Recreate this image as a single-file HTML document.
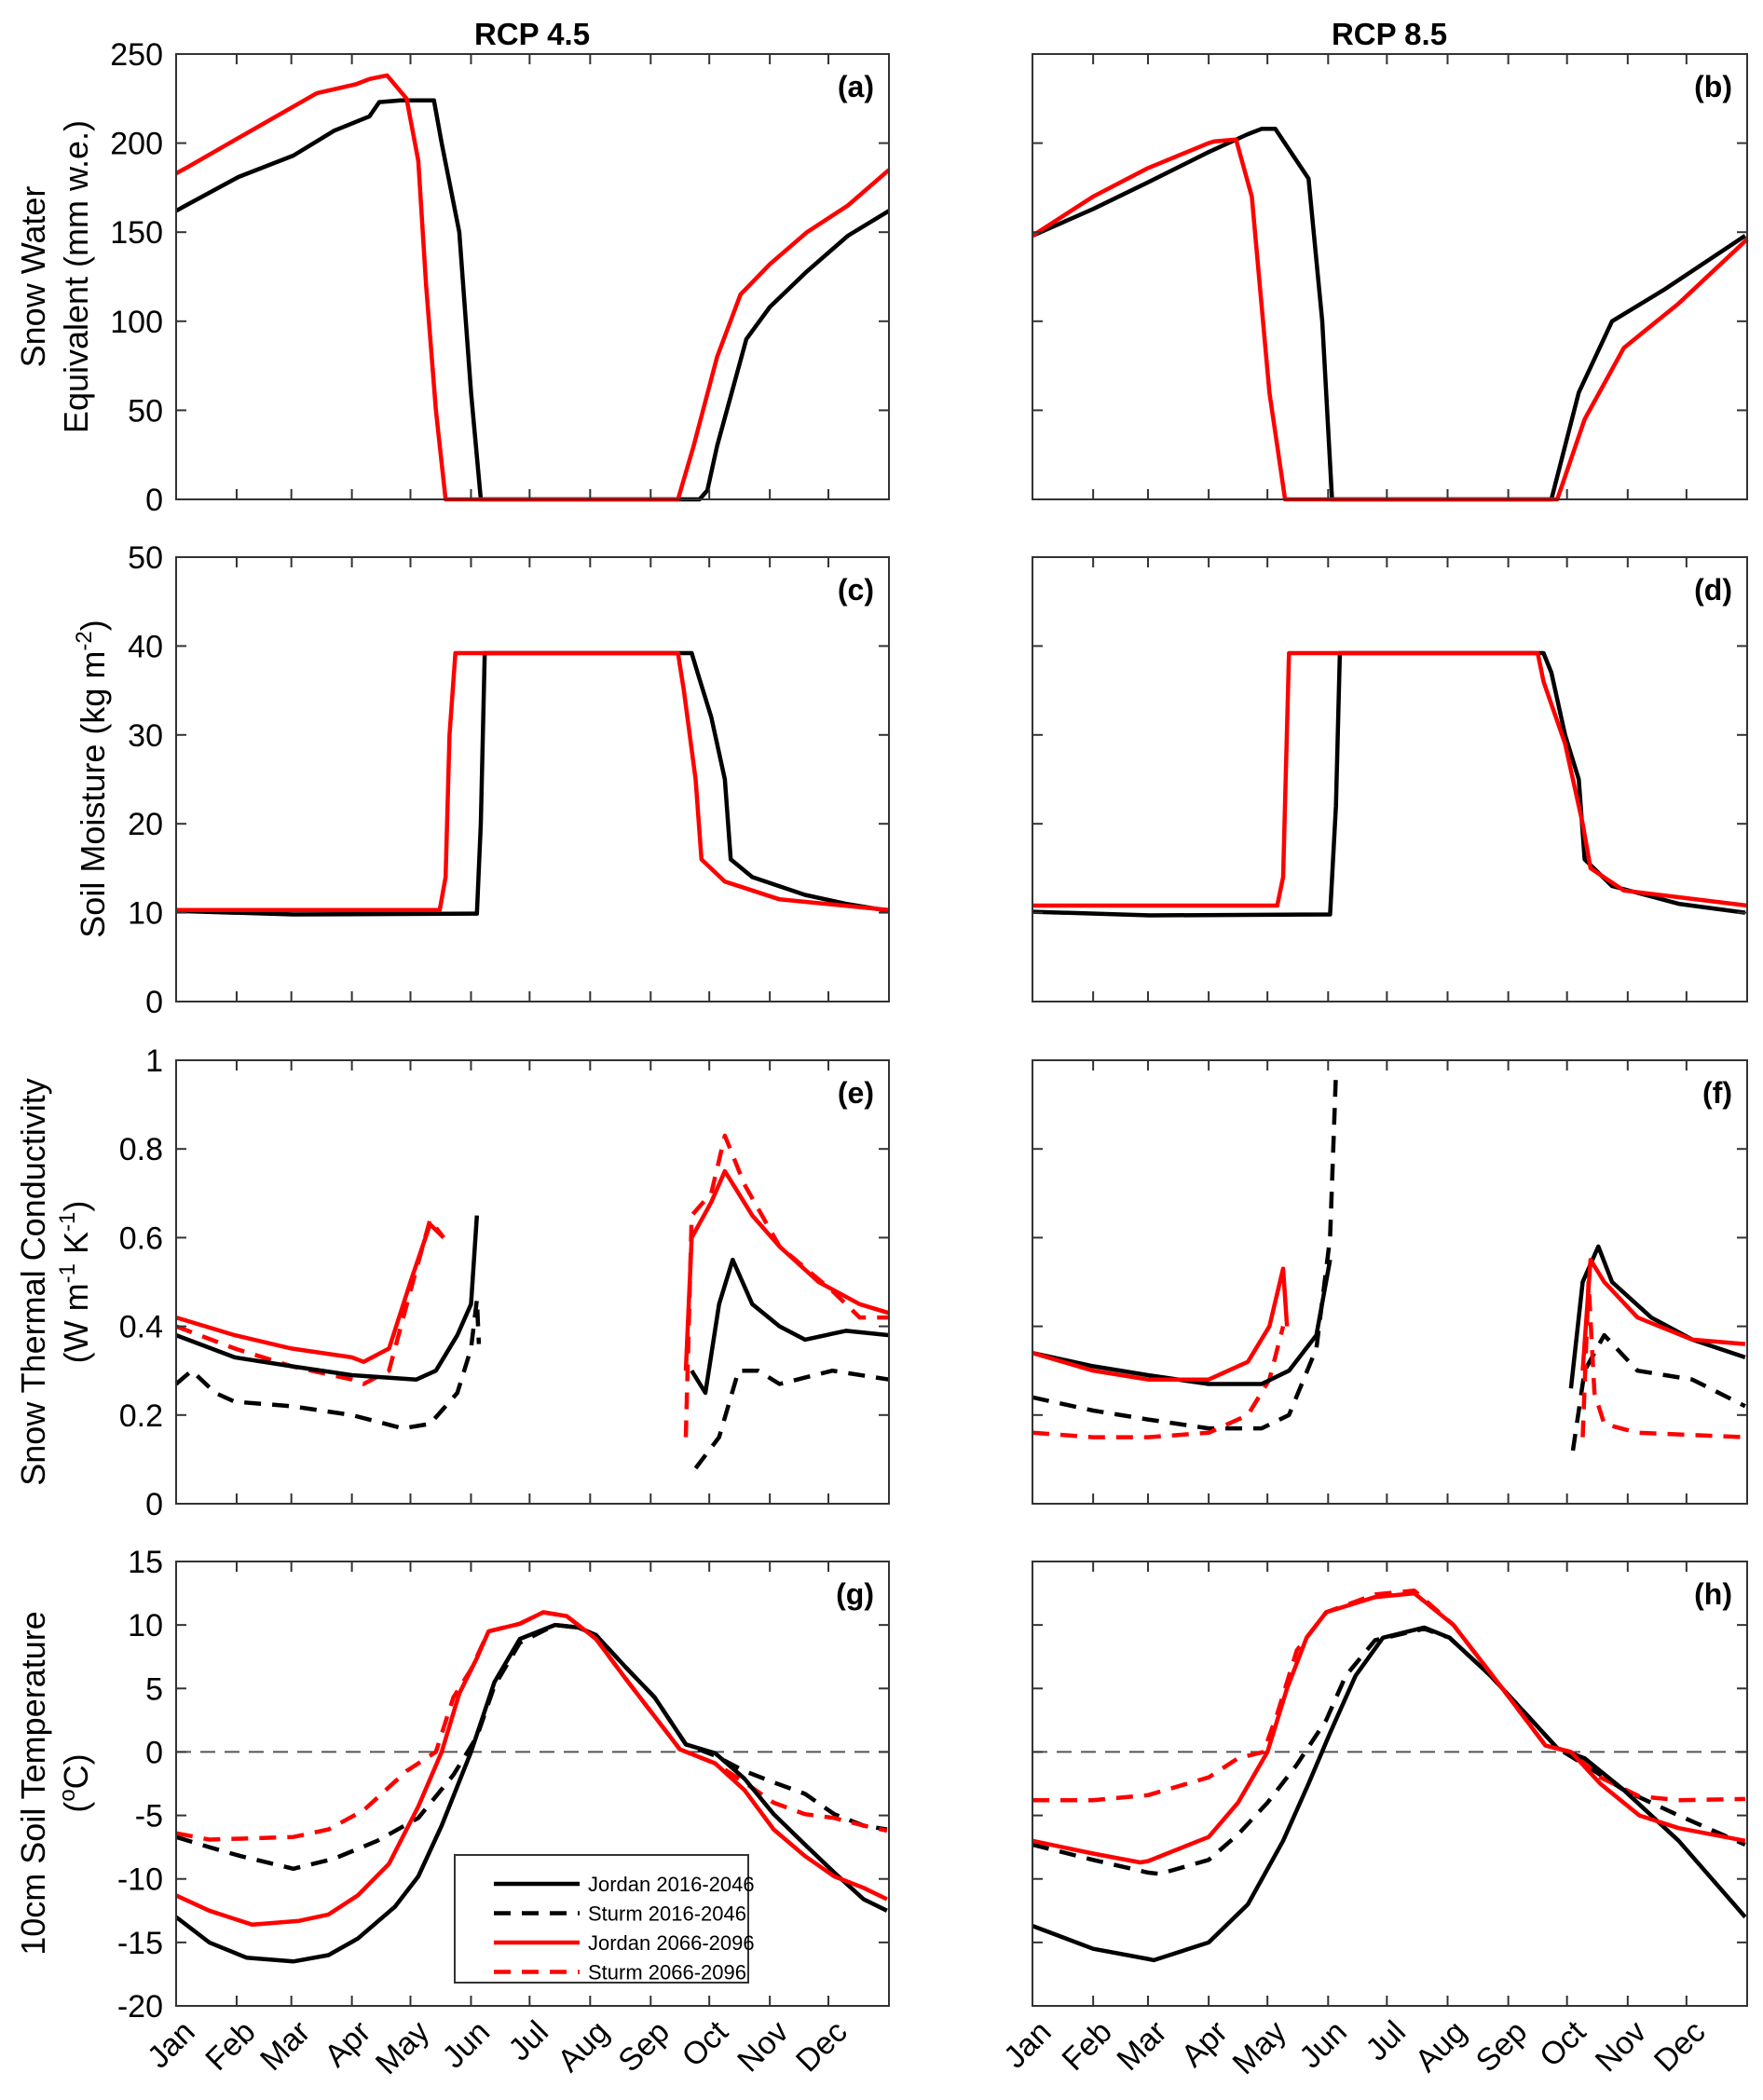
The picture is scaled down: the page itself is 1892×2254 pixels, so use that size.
<!DOCTYPE html>
<html><head><meta charset="utf-8"><style>
body{margin:0;background:#fff;}
svg{display:block;font-family:"Liberation Sans",sans-serif;}
</style></head><body>
<svg id="fig" width="1892" height="2254" viewBox="0 0 1892 2254" xmlns="http://www.w3.org/2000/svg">
<text x="571" y="48" font-size="33" font-weight="bold" text-anchor="middle">RCP 4.5</text>
<text x="1491" y="48" font-size="33" font-weight="bold" text-anchor="middle">RCP 8.5</text>
<g font-size="36" text-anchor="middle">
<text transform="translate(48,297) rotate(-90)">Snow Water</text>
<text transform="translate(94,297) rotate(-90)">Equivalent (mm w.e.)</text>
</g>
<g font-size="36" text-anchor="middle">
<text transform="translate(112,836) rotate(-90)">Soil Moisture (kg m<tspan dy="-14" font-size="24">-2</tspan><tspan dy="14">)</tspan></text>
</g>
<g font-size="36" text-anchor="middle">
<text transform="translate(48,1376) rotate(-90)">Snow Thermal Conductivity</text>
<text transform="translate(94,1376) rotate(-90)">(W m<tspan dy="-14" font-size="24">-1</tspan><tspan dy="14"> K</tspan><tspan dy="-14" font-size="24">-1</tspan><tspan dy="14">)</tspan></text>
</g>
<g font-size="36" text-anchor="middle">
<text transform="translate(48,1914) rotate(-90)">10cm Soil Temperature</text>
<text transform="translate(94,1914) rotate(-90)">(<tspan dy="-14" font-size="24">o</tspan><tspan dy="14">C)</tspan></text>
</g>
</svg>
<script>
// ---------- data ----------
const months=["Jan","Feb","Mar","Apr","May","Jun","Jul","Aug","Sep","Oct","Nov","Dec"];
const monthStart=[0,31,59,90,120,151,181,212,243,273,304,334];
const sweTicks=[0,50,100,150,200,250];
const smTicks=[0,10,20,30,40,50];
const kTicks=[0,0.2,0.4,0.6,0.8,1];
const kTickLabels=["0","0.2","0.4","0.6","0.8","1"];
const tTicks=[-20,-15,-10,-5,0,5,10,15];

// (a)
const aJ1Day=[0,5,32,60,81,99,104,115,132,136,145,151,156,268,272,277,292,304,323,344,365];
const aJ1Val=[162,165,181,193,207,215,223,224,224,200,150,60,0,0,5,30,90,108,128,148,162];
const aJ2Day=[0,5,32,72,92,99,108,118,124,128,133,138,257,265,277,289,304,323,344,365];
const aJ2Val=[183,186,203,228,233,236,238,225,190,120,50,0,0,30,80,115,132,150,165,185];
// (b)
const bJ1Day=[0,31,59,90,110,117,124,141,148,153,265,279,296,323,364];
const bJ1Val=[148,163,178,195,205,208,208,180,100,0,0,60,100,118,148];
const bJ2Day=[0,31,59,90,93,104,112,121,129,268,282,302,330,365];
const bJ2Val=[148,170,186,200,201,202,170,60,0,0,45,85,110,146];
// (c)
const cJ1Day=[0,60,154,156,158,264,267,274,281,284,295,322,343,365];
const cJ1Val=[10.2,9.8,9.9,20,39.2,39.2,37,32,25,16,14,12,11,10.2];
const cJ2Day=[0,135,138,140,143,257,260,266,269,281,309,365];
const cJ2Val=[10.3,10.3,14,30,39.2,39.2,35,25,16,13.5,11.5,10.3];
// (d)
const dJ1Day=[0,60,152,155,157,261,265,272,279,282,296,330,364];
const dJ1Val=[10.1,9.7,9.8,22,39.2,39.2,37,30,25,16,13,11,10];
const dJ2Day=[0,125,128,131,258,261,272,281,285,302,365];
const dJ2Val=[10.8,10.8,14,39.2,39.2,36,29,20,15,12.5,10.8];
// (e) spring / autumn segments
const eJ1SpDay=[0,30,59,90,123,133,144,151,154];
const eJ1SpVal=[0.38,0.33,0.31,0.29,0.28,0.3,0.38,0.45,0.65];
const eJ1AuDay=[264,271,278,285,295,309,322,343,365];
const eJ1AuVal=[0.3,0.25,0.45,0.55,0.45,0.4,0.37,0.39,0.38];
const eS1SpDay=[0,8,20,30,59,90,116,130,144,151,154,155];
const eS1SpVal=[0.27,0.3,0.25,0.23,0.22,0.2,0.17,0.18,0.25,0.35,0.46,0.36];
const eS1AuDay=[266,278,288,298,309,336,365];
const eS1AuVal=[0.08,0.15,0.3,0.3,0.27,0.3,0.28];
const eJ2SpDay=[0,30,59,90,96,109,120,130,137];
const eJ2SpVal=[0.42,0.38,0.35,0.33,0.32,0.35,0.5,0.63,0.6];
const eJ2AuDay=[261,264,274,281,295,309,329,350,365];
const eJ2AuVal=[0.3,0.6,0.68,0.75,0.65,0.58,0.5,0.45,0.43];
const eS2SpDay=[0,30,59,90,96,109,120,130,137];
const eS2SpVal=[0.4,0.35,0.31,0.28,0.27,0.3,0.48,0.64,0.6];
const eS2AuDay=[261,264,274,281,291,309,336,350,365];
const eS2AuVal=[0.15,0.65,0.7,0.83,0.72,0.58,0.48,0.42,0.42];
// (f)
const fJ1SpDay=[0,31,59,90,117,131,145,152];
const fJ1SpVal=[0.34,0.31,0.29,0.27,0.27,0.3,0.38,0.55];
const fJ1AuDay=[275,281,289,296,316,337,364];
const fJ1AuVal=[0.26,0.5,0.58,0.5,0.42,0.37,0.33];
const fS1SpDay=[0,31,59,90,117,131,145,152,155];
const fS1SpVal=[0.24,0.21,0.19,0.17,0.17,0.2,0.35,0.6,0.97];
const fS1AuDay=[276,282,292,309,337,364];
const fS1AuVal=[0.12,0.3,0.38,0.3,0.28,0.22];
const fJ2SpDay=[0,31,59,90,110,121,128,130];
const fJ2SpVal=[0.34,0.3,0.28,0.28,0.32,0.4,0.53,0.4];
const fJ2AuDay=[281,285,292,309,337,364];
const fJ2AuVal=[0.3,0.55,0.5,0.42,0.37,0.36];
const fS2SpDay=[0,31,59,90,110,121,128];
const fS2SpVal=[0.16,0.15,0.15,0.16,0.2,0.28,0.4];
const fS2AuDay=[281,284,287,292,309,364];
const fS2AuVal=[0.15,0.5,0.25,0.18,0.16,0.15];
// (g)
const gJ1Day=[0,17,36,60,78,93,112,124,136,151,163,176,194,206,215,230,245,261,276,291,306,322,337,352,364];
const gJ1Val=[-13,-15,-16.2,-16.5,-16,-14.7,-12.2,-9.8,-5.8,0,5.5,8.9,10,9.8,9.2,6.7,4.3,0.6,-0.1,-2.1,-4.9,-7.3,-9.5,-11.6,-12.5];
const gS1Day=[0,17,33,60,81,103,124,142,154,163,176,194,206,215,230,245,261,276,291,306,322,337,352,364];
const gS1Val=[-6.7,-7.5,-8.2,-9.2,-8.4,-7,-5.2,-1.8,1.2,5.2,8.6,10,9.8,9.2,6.7,4.3,0.6,-0.3,-1.5,-2.4,-3.3,-4.9,-5.8,-6.1];
const gJ2Day=[0,17,39,63,78,93,109,124,136,145,154,160,176,188,200,215,230,245,258,276,291,306,322,337,352,364];
const gJ2Val=[-11.3,-12.5,-13.6,-13.3,-12.8,-11.3,-8.8,-4.3,0,4.6,7.4,9.5,10.1,11,10.7,8.9,5.8,2.8,0.2,-0.9,-3,-6.1,-8.2,-9.8,-10.7,-11.6];
const gS2Day=[0,17,60,78,96,118,133,142,151,160,176,188,200,215,230,245,258,276,291,306,322,337,352,364];
const gS2Val=[-6.4,-6.9,-6.7,-6.1,-4.6,-1.5,0,4.3,6.5,9.5,10.1,11,10.7,8.9,5.8,2.8,0.2,-0.9,-2.4,-4,-4.9,-5.2,-5.8,-6.2];
// (h)
const hJ1Day=[0,31,59,62,90,110,128,141,152,165,179,200,213,234,255,268,282,302,330,364];
const hJ1Val=[-13.7,-15.5,-16.3,-16.4,-15,-12,-7,-2.5,1.5,6,9,9.8,9,6,2.5,0.3,-0.5,-3,-7,-13];
const hS1Day=[0,31,59,65,90,105,120,135,150,160,175,200,213,234,255,268,282,302,330,364];
const hS1Val=[-7.3,-8.5,-9.5,-9.6,-8.5,-6.5,-4,-1,2.5,6,8.8,9.7,9,6,2.5,0.3,-1,-3,-5,-7.3];
const hJ2Day=[0,31,55,59,90,105,120,130,140,150,175,195,215,240,262,275,290,310,330,364];
const hJ2Val=[-7,-8,-8.7,-8.6,-6.7,-4,0,5,9,11,12.2,12.5,10,5,0.5,0,-2.5,-5,-6,-7];
const hS2Day=[0,31,59,90,105,118,125,135,150,175,195,215,240,262,275,290,310,330,364];
const hS2Val=[-3.8,-3.8,-3.4,-2,-0.5,0,3,8,11,12.4,12.7,10,5,0.5,0,-2,-3.5,-3.8,-3.7];

// ---------- drawing ----------
const NS="http://www.w3.org/2000/svg";
const svg=document.getElementById('fig');
function mk(tag,attrs,parent){const e=document.createElementNS(NS,tag);for(const k in attrs)e.setAttribute(k,attrs[k]);(parent||svg).appendChild(e);return e;}
const COLS=[[189,954],[1108,1875]];
const ROWS=[[58,536],[598,1075],[1138,1614],[1676,2153]];
function panel(name,col,row,ymin,ymax,ticks,tickLabels,label,series,opts){
  const [x0,x1]=COLS[col],[y0,y1]=ROWS[row];
  const xs=d=>x0+(x1-x0)*d/365;
  const ys=v=>y1-(y1-y0)*(v-ymin)/(ymax-ymin);
  const g=mk('g',{});
  
  
  if(opts&&opts.zero){const z=mk('line',{x1:x0,x2:x1,y1:ys(0),y2:ys(0),stroke:'#555','stroke-width':2,'stroke-dasharray':'16,10'},g);
    
    }
  series.forEach(s=>{
    let d='';s.d.forEach((dd,i)=>{d+=(i?'L':'M')+xs(dd).toFixed(1)+','+ys(s.v[i]).toFixed(1);});
    const p=mk('path',{d:d,fill:'none',stroke:s.c,'stroke-width':4.5,'stroke-linejoin':'round','stroke-dasharray':s.dash?'18,12':'none'},g);
    
    
  });
  const fr=mk('rect',{x:x0,y:y0,width:x1-x0,height:y1-y0,fill:'none',stroke:'#333','stroke-width':2},g);
  
  
  monthStart.forEach((m,i)=>{ if(i===0)return; const x=xs(m);
    mk('line',{x1:x,x2:x,y1:y1,y2:y1-11,stroke:'#333','stroke-width':2},g);
    mk('line',{x1:x,x2:x,y1:y0,y2:y0+11,stroke:'#333','stroke-width':2},g);});
  ticks.forEach((t,i)=>{const y=ys(t);
    mk('line',{x1:x0,x2:x0+11,y1:y,y2:y,stroke:'#333','stroke-width':2},g);
    mk('line',{x1:x1,x2:x1-11,y1:y,y2:y,stroke:'#333','stroke-width':2},g);
    if(col===0){
    const tl=mk('text',{x:x0-14,y:y+12,'font-size':34,'text-anchor':'end'},g);
    tl.textContent=tickLabels?tickLabels[i]:String(t);
    
    }});
  const pl=mk('text',{x:x1-16,y:y0+46,'font-size':32,'font-weight':'bold','text-anchor':'end'},g);
  pl.textContent=label;
  
  
  if(row===3){months.forEach((m,i)=>{const x=xs(monthStart[i]);
    const t=mk('text',{'font-size':34,'text-anchor':'end',transform:`translate(${x+22},${y1+30}) rotate(-45)`},g);
    t.textContent=m;
    
    });}
}
const K='#000',R='#f00';
panel('panel-a-swe-rcp45',0,0,0,250,sweTicks,null,'(a)',[{n:'jordan-2016',d:aJ1Day,v:aJ1Val,c:K},{n:'jordan-2066',d:aJ2Day,v:aJ2Val,c:R}]);
panel('panel-b-swe-rcp85',1,0,0,250,sweTicks,null,'(b)',[{n:'jordan-2016',d:bJ1Day,v:bJ1Val,c:K},{n:'jordan-2066',d:bJ2Day,v:bJ2Val,c:R}]);
panel('panel-c-sm-rcp45',0,1,0,50,smTicks,null,'(c)',[{n:'jordan-2016',d:cJ1Day,v:cJ1Val,c:K},{n:'jordan-2066',d:cJ2Day,v:cJ2Val,c:R}]);
panel('panel-d-sm-rcp85',1,1,0,50,smTicks,null,'(d)',[{n:'jordan-2016',d:dJ1Day,v:dJ1Val,c:K},{n:'jordan-2066',d:dJ2Day,v:dJ2Val,c:R}]);
panel('panel-e-k-rcp45',0,2,0,1,kTicks,kTickLabels,'(e)',[
 {n:'sturm-2016-spring',d:eS1SpDay,v:eS1SpVal,c:K,dash:1},{n:'sturm-2016-autumn',d:eS1AuDay,v:eS1AuVal,c:K,dash:1},
 {n:'sturm-2066-spring',d:eS2SpDay,v:eS2SpVal,c:R,dash:1},{n:'sturm-2066-autumn',d:eS2AuDay,v:eS2AuVal,c:R,dash:1},
 {n:'jordan-2016-spring',d:eJ1SpDay,v:eJ1SpVal,c:K},{n:'jordan-2016-autumn',d:eJ1AuDay,v:eJ1AuVal,c:K},
 {n:'jordan-2066-spring',d:eJ2SpDay,v:eJ2SpVal,c:R},{n:'jordan-2066-autumn',d:eJ2AuDay,v:eJ2AuVal,c:R}]);
panel('panel-f-k-rcp85',1,2,0,1,kTicks,kTickLabels,'(f)',[
 {n:'sturm-2016-spring',d:fS1SpDay,v:fS1SpVal,c:K,dash:1},{n:'sturm-2016-autumn',d:fS1AuDay,v:fS1AuVal,c:K,dash:1},
 {n:'sturm-2066-spring',d:fS2SpDay,v:fS2SpVal,c:R,dash:1},{n:'sturm-2066-autumn',d:fS2AuDay,v:fS2AuVal,c:R,dash:1},
 {n:'jordan-2016-spring',d:fJ1SpDay,v:fJ1SpVal,c:K},{n:'jordan-2016-autumn',d:fJ1AuDay,v:fJ1AuVal,c:K},
 {n:'jordan-2066-spring',d:fJ2SpDay,v:fJ2SpVal,c:R},{n:'jordan-2066-autumn',d:fJ2AuDay,v:fJ2AuVal,c:R}]);
panel('panel-g-temp-rcp45',0,3,-20,15,tTicks,null,'(g)',[
 {n:'sturm-2016',d:gS1Day,v:gS1Val,c:K,dash:1},{n:'sturm-2066',d:gS2Day,v:gS2Val,c:R,dash:1},
 {n:'jordan-2016',d:gJ1Day,v:gJ1Val,c:K},{n:'jordan-2066',d:gJ2Day,v:gJ2Val,c:R}],{zero:1});
panel('panel-h-temp-rcp85',1,3,-20,15,tTicks,null,'(h)',[
 {n:'sturm-2016',d:hS1Day,v:hS1Val,c:K,dash:1},{n:'sturm-2066',d:hS2Day,v:hS2Val,c:R,dash:1},
 {n:'jordan-2016',d:hJ1Day,v:hJ1Val,c:K},{n:'jordan-2066',d:hJ2Day,v:hJ2Val,c:R}],{zero:1});

// legend
const legendLabels=["Jordan 2016-2046","Sturm 2016-2046","Jordan 2066-2096","Sturm 2066-2096"];
const legendColors=[K,K,R,R];
const legendDash=[0,1,0,1];
const lg=mk('g',{});


mk('rect',{x:488,y:1991,width:315,height:137,fill:'#fff',stroke:'#333','stroke-width':2},lg);
legendLabels.forEach((l,i)=>{const y=2022+i*31.5;
  const e=mk('g',{},lg);
  
  
  mk('line',{x1:530,x2:622,y1:y,y2:y,stroke:legendColors[i],'stroke-width':4.5,'stroke-dasharray':legendDash[i]?'18,12':'none'},e);
  const t=mk('text',{x:631,y:y+8,'font-size':22},e);t.textContent=l;});
</script>
</body></html>
